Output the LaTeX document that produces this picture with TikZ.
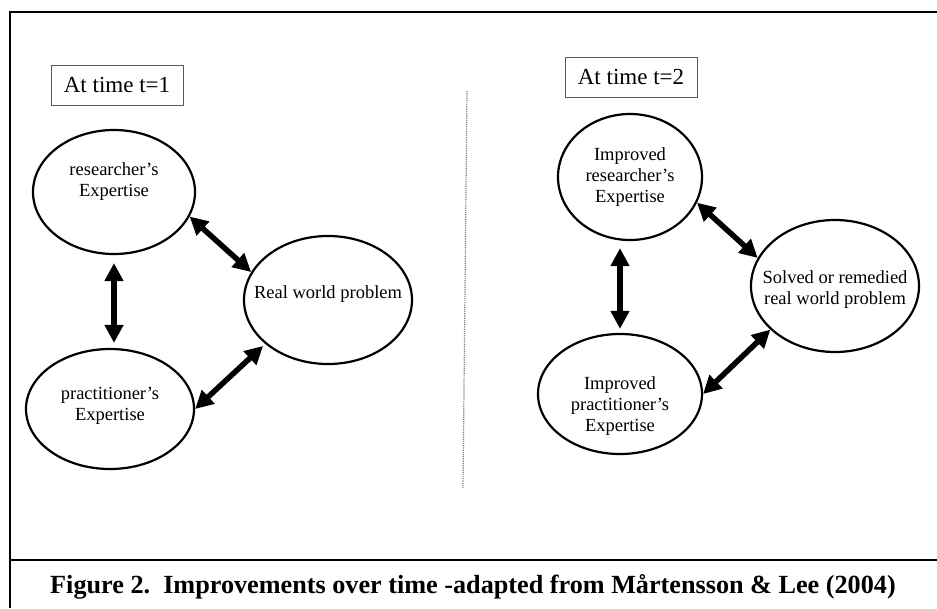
\documentclass[tikz,border=0pt]{standalone}
\usepackage{fontspec}
\setmainfont{Liberation Serif}
\usepackage{tikz}
\usetikzlibrary{arrows.meta}
\usetikzlibrary{shapes.geometric}

\begin{document}
\begin{tikzpicture}[x=1pt, y=-1pt,
    bubble/.style={draw, ellipse, line width=2.2pt, inner sep=0pt},
    bubbletext/.style={align=center, inner sep=0pt, font=\fontsize{18.5}{21}\selectfont},
    timebox/.style={draw=black!65, line width=0.8pt, minimum width=132pt, minimum height=40pt, inner sep=0pt, font=\fontsize{23}{27}\selectfont},
    link/.style={{Triangle[length=18pt,width=18pt]}-{Triangle[length=18pt,width=18pt]}, line width=5.5pt}]
    \useasboundingbox (0,0) rectangle (937,608);
    \draw[line width=2pt] (937,12) -- (10,12) -- (10,608);
    \draw[line width=1.5pt] (10,560) -- (937,560);
    \draw[gray, densely dotted, line width=1.2pt] (467,91) -- (463,488);

    \node[timebox] (t1) at (117,85) {At time t=1};
    \node[timebox] (t2) at (631,77) {At time t=2};

    \node[bubble, minimum width=162pt, minimum height=124pt, label={[bubbletext, yshift=10pt]center:researcher’s\\Expertise}] (rs) at (114,192) {};
    \node[bubble, minimum width=168pt, minimum height=120pt, label={[bubbletext, yshift=3pt]center:practitioner’s\\Expertise}] (pe) at (110,409) {};
    \node[bubble, minimum width=168pt, minimum height=128pt, label={[bubbletext, yshift=6pt]center:Real world problem}] (rw) at (328,300) {};

    \node[bubble, minimum width=144pt, minimum height=126pt, label={[bubbletext]center:Improved\\researcher’s\\Expertise}] (ir) at (630,177) {};
    \node[bubble, minimum width=168pt, minimum height=132pt, label={[bubbletext, yshift=-4pt]center:Solved or remedied\\real world problem}] (sp) at (835,286) {};
    \node[bubble, minimum width=164pt, minimum height=120pt, label={[bubbletext, yshift=-12pt]center:Improved\\practitioner’s\\Expertise}] (ip) at (620,394) {};

    \draw[link, shorten <=8pt, shorten >=5pt] (rs.south) -- (rs.south |- pe.north);
    \draw[link] (rs.-18) -- (rw.160);
    \draw[link, shorten >=3pt] (pe.0) -- (rw.-145);

    \draw[link, shorten <=7pt, shorten >=4pt] (ip.north |- ir.south) -- (ip.north);
    \draw[link] (ir.-21) -- (sp.160);
    \draw[link] (ip.0) -- (sp.-146);

    \node[font=\bfseries\fontsize{26.2}{31}\selectfont] (caption) at (473,587) {Figure 2.\ \ Improvements over time -adapted from Mårtensson \& Lee (2004)};
\end{tikzpicture}
\end{document}
